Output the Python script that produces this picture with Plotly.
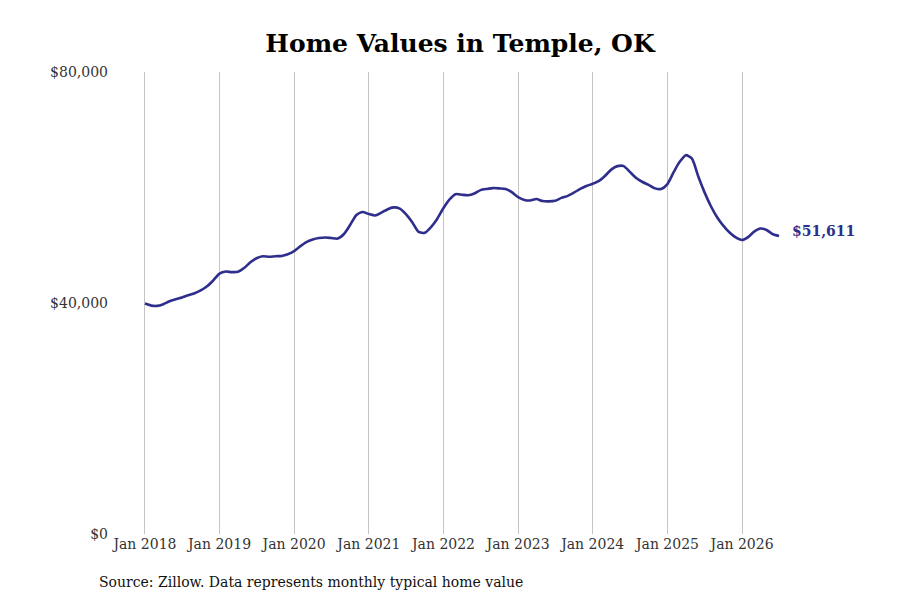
import pandas as pd
import plotly.graph_objects as go

title_text = "Home Values in Temple, OK"
source_text = "Source: Zillow. Data represents monthly typical home value"
start_month = "2018-01-01"

values = [
    # 2018
    39900, 39550, 39500, 39800, 40300, 40650, 40950, 41350, 41700, 42200, 42900, 43900,
    # 2019
    45100, 45450, 45350, 45400, 46050, 47050, 47750, 48100, 48000, 48100, 48150, 48450,
    # 2020
    49000, 49850, 50550, 51000, 51250, 51350, 51250, 51150, 51950, 53500, 55250, 55750,
    # 2021
    55400, 55150, 55600, 56200, 56550, 56350, 55400, 54000, 52300, 52150, 53150, 54550,
    # 2022
    56450, 58000, 58850, 58750, 58650, 58950, 59550, 59750, 59900, 59850, 59750, 59200,
    # 2023
    58350, 57850, 57750, 58000, 57650, 57600, 57700, 58200, 58550, 59100, 59750, 60250,
    # 2024
    60650, 61150, 62000, 63100, 63700, 63700, 62700, 61650, 60950, 60450, 59850, 59750,
    # 2025
    60600, 62700, 64400, 65600, 65000, 61900, 59200, 56800, 54850, 53400, 52200, 51350,
    # 2026
    50900, 51450, 52350, 52900, 52650, 51900, 51611,
]

x_tick_years = [2018, 2019, 2020, 2021, 2022, 2023, 2024, 2025, 2026]
y_tick_vals = [0, 40000, 80000]
y_tick_text = ["$0", "$40,000", "$80,000"]

dates = pd.date_range(start_month, periods=len(values), freq="MS")
x_tick_vals = [pd.Timestamp(year=yr, month=1, day=1) for yr in x_tick_years]
x_tick_text = [f"Jan {yr}" for yr in x_tick_years]

line_color = "#2e2e8c"
font_family = "DejaVu Serif"

fig = go.Figure()
fig.add_trace(go.Scatter(
    x=dates, y=values, mode="lines",
    line=dict(color=line_color, width=2.6, shape="spline", smoothing=0.6),
    hoverinfo="skip", showlegend=False,
))

fig.add_annotation(
    x=dates[-1], y=values[-1], xref="x", yref="y",
    text=f"<b>${values[-1]:,}</b>", showarrow=False,
    xanchor="left", yanchor="middle", xshift=11, yshift=5,
    font=dict(family=font_family, size=14, color=line_color),
)

fig.add_annotation(
    x=-0.018, y=-0.104, xref="paper", yref="paper",
    text=source_text, showarrow=False,
    xanchor="left", yanchor="middle",
    font=dict(family=font_family, size=14, color="#111111"),
)

fig.update_layout(
    width=900, height=600,
    margin=dict(l=103, r=37, t=64, b=74),
    paper_bgcolor="white", plot_bgcolor="white",
    title=dict(text=f"<b>{title_text}</b>", x=452 / 900, xref="container", xanchor="center",
               y=1 - 35 / 600, yref="container", yanchor="middle",
               font=dict(family=font_family, size=25, color="#000000")),
    font=dict(family=font_family, size=14, color="#333333"),
    xaxis=dict(
        range=["2017-07-19", "2027-09-24"],
        tickvals=x_tick_vals, ticktext=x_tick_text,
        showgrid=True, gridcolor="#c4c4c4", gridwidth=1,
        showline=False, zeroline=False, ticks="",
        tickfont=dict(family=font_family, size=14, color="#333333"),
    ),
    yaxis=dict(
        range=[0, 80000], tickvals=y_tick_vals, ticktext=y_tick_text,
        showgrid=False, zeroline=False, showline=False, ticks="",
        ticklabelstandoff=2,
        tickfont=dict(family=font_family, size=14, color="#333333"),
    ),
)

fig.write_html("out.html")
